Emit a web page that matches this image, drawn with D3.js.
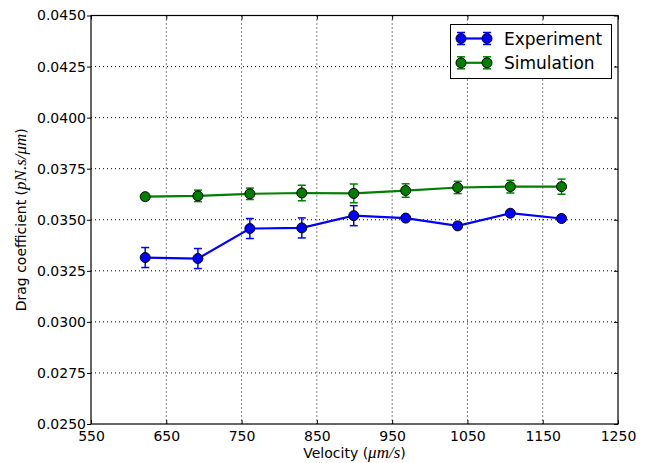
<!DOCTYPE html>
<html>
<head>
<meta charset="utf-8">
<script src="https://cdn.jsdelivr.net/npm/d3@7"></script>
<style>
  body { margin: 0; background: #fff; }
  text { font-family: "DejaVu Sans", sans-serif; }
  .math { font-family: "Liberation Serif", serif; font-style: italic; }
</style>
</head>
<body>
<div class="chart"></div>
<script>
// data
var velocity = [622, 692, 761, 830, 899, 968, 1037, 1107, 1175];
var expMean = [0.03315, 0.0331, 0.03457, 0.0346, 0.0352, 0.03508, 0.0347, 0.03532, 0.03506];
var expErr  = [0.00049, 0.00049, 0.00049, 0.00049, 0.00049, 0.0001, 0.0001, 0.0001, 0.0001];
var simMean = [0.03613, 0.03617, 0.03627, 0.03631, 0.03629, 0.03643, 0.03658, 0.03662, 0.03662];
var simErr  = [0.0001, 0.00028, 0.00028, 0.00038, 0.00046, 0.00033, 0.0003, 0.00031, 0.00037];
var xTicks = [550, 650, 750, 850, 950, 1050, 1150, 1250];
var yTicks = [0.025, 0.0275, 0.03, 0.0325, 0.035, 0.0375, 0.04, 0.0425, 0.045];

var series = [
  {name: "Experiment", mean: expMean, err: expErr, color: "#0000ff"},
  {name: "Simulation", mean: simMean, err: simErr, color: "#007f00"}
];

const W = 646, H = 463;
const margin = {top: 15.5, right: 28, bottom: 39, left: 91};

const svg = d3.select(".chart").append("svg")
    .attr("width", W).attr("height", H);

var x = d3.scaleLinear().domain([550, 1250]).range([margin.left, W - margin.right]);
var y = d3.scaleLinear().domain([0.025, 0.045]).range([H - margin.bottom, margin.top]);

// grid
var grid = svg.append("g").attr("stroke", "#000").attr("stroke-width", 1)
    .attr("stroke-dasharray", "1,3");
grid.selectAll(".gx").data(xTicks.slice(1, -1)).join("line")
    .attr("x1", d => x(d)).attr("x2", d => x(d))
    .attr("y1", y.range()[1]).attr("y2", y.range()[0]);
grid.selectAll(".gy").data(yTicks.slice(1, -1)).join("line")
    .attr("y1", d => y(d)).attr("y2", d => y(d))
    .attr("x1", x.range()[0]).attr("x2", x.range()[1]);

// axes
svg.append("g")
    .attr("transform", `translate(0,${y.range()[0]})`)
    .call(d3.axisBottom(x).tickValues(xTicks).tickSizeInner(-4).tickSizeOuter(0).tickPadding(7)
      .tickFormat(d3.format("d")))
    .call(g => g.select(".domain").remove());
svg.append("g")
    .attr("transform", `translate(0,${y.range()[1]})`)
    .call(d3.axisTop(x).tickValues(xTicks).tickSizeInner(-4).tickSizeOuter(0).tickFormat(""))
    .call(g => g.select(".domain").remove());
svg.append("g")
    .attr("transform", `translate(${x.range()[0]},0)`)
    .call(d3.axisLeft(y).tickValues(yTicks).tickSizeInner(4).tickSizeOuter(0).tickPadding(1)
      .tickFormat(d3.format(".4f")))
    .call(g => g.select(".domain").remove());
svg.append("g")
    .attr("transform", `translate(${x.range()[1]},0)`)
    .call(d3.axisRight(y).tickValues(yTicks).tickSizeInner(-4).tickSizeOuter(0).tickFormat(""))
    .call(g => g.select(".domain").remove());
svg.selectAll(".tick text").attr("font-size", 14).attr("fill", "#000")
    .attr("font-family", "DejaVu Sans");

svg.append("rect")
    .attr("x", x.range()[0]).attr("y", y.range()[1])
    .attr("width", x.range()[1] - x.range()[0]).attr("height", y.range()[0] - y.range()[1])
    .attr("fill", "none").attr("stroke", "#000").attr("stroke-width", 1.2);

// series
var line = d3.line().x(d => x(d.v)).y(d => y(d.m));
series.forEach(function(s) {
  var pts = velocity.map((v, i) => ({v: v, m: s.mean[i], e: s.err[i]}));
  var g = svg.append("g");
  g.append("path").datum(pts).attr("d", line)
      .attr("fill", "none").attr("stroke", s.color).attr("stroke-width", 2.2);
  var eb = g.selectAll(".eb").data(pts).join("g").attr("stroke", s.color).attr("stroke-width", 1.5);
  eb.append("line").attr("x1", d => x(d.v)).attr("x2", d => x(d.v))
      .attr("y1", d => y(d.m - d.e)).attr("y2", d => y(d.m + d.e));
  eb.append("line").attr("x1", d => x(d.v) - 4).attr("x2", d => x(d.v) + 4)
      .attr("y1", d => y(d.m - d.e)).attr("y2", d => y(d.m - d.e));
  eb.append("line").attr("x1", d => x(d.v) - 4).attr("x2", d => x(d.v) + 4)
      .attr("y1", d => y(d.m + d.e)).attr("y2", d => y(d.m + d.e));
  g.selectAll("circle").data(pts).join("circle")
      .attr("cx", d => x(d.v)).attr("cy", d => y(d.m)).attr("r", 5)
      .attr("fill", s.color).attr("stroke", "#000").attr("stroke-width", 1);
});

// legend
var lg = svg.append("g");
lg.append("rect").attr("x", 450.5).attr("y", 24.5).attr("width", 161).attr("height", 54)
    .attr("fill", "#fff").attr("stroke", "#000").attr("stroke-width", 1);
series.forEach(function(s, i) {
  var cy = 38.5 + i * 24.3;
  var r = lg.append("g").attr("stroke", s.color);
  r.append("line").attr("x1", 461).attr("x2", 487).attr("y1", cy).attr("y2", cy).attr("stroke-width", 2.2);
  [461, 487].forEach(function(cx) {
    r.append("line").attr("x1", cx).attr("x2", cx).attr("y1", cy - 6).attr("y2", cy + 6).attr("stroke-width", 1.5);
    r.append("line").attr("x1", cx - 4).attr("x2", cx + 4).attr("y1", cy - 6).attr("y2", cy - 6).attr("stroke-width", 1.5);
    r.append("line").attr("x1", cx - 4).attr("x2", cx + 4).attr("y1", cy + 6).attr("y2", cy + 6).attr("stroke-width", 1.5);
    r.append("circle").attr("cx", cx).attr("cy", cy).attr("r", 5)
        .attr("fill", s.color).attr("stroke", "#000").attr("stroke-width", 1);
  });
  lg.append("text").attr("x", 504).attr("y", cy + 6).attr("font-size", 17).text(s.name);
});

// axis labels
var xl = svg.append("text").attr("x", x(900)).attr("y", 458).attr("text-anchor", "middle")
    .attr("font-size", 14);
xl.append("tspan").text("Velocity (");
xl.append("tspan").attr("class", "math").attr("font-size", 17).text("μm/s");
xl.append("tspan").text(")");

var yl = svg.append("text").attr("transform", `translate(26,${(y.range()[0] + y.range()[1]) / 2}) rotate(-90)`)
    .attr("text-anchor", "middle").attr("font-size", 14);
yl.append("tspan").text("Drag coefficient (");
yl.append("tspan").attr("class", "math").attr("font-size", 17).text("pN.s/μm");
yl.append("tspan").text(")");
</script>
</body>
</html>
